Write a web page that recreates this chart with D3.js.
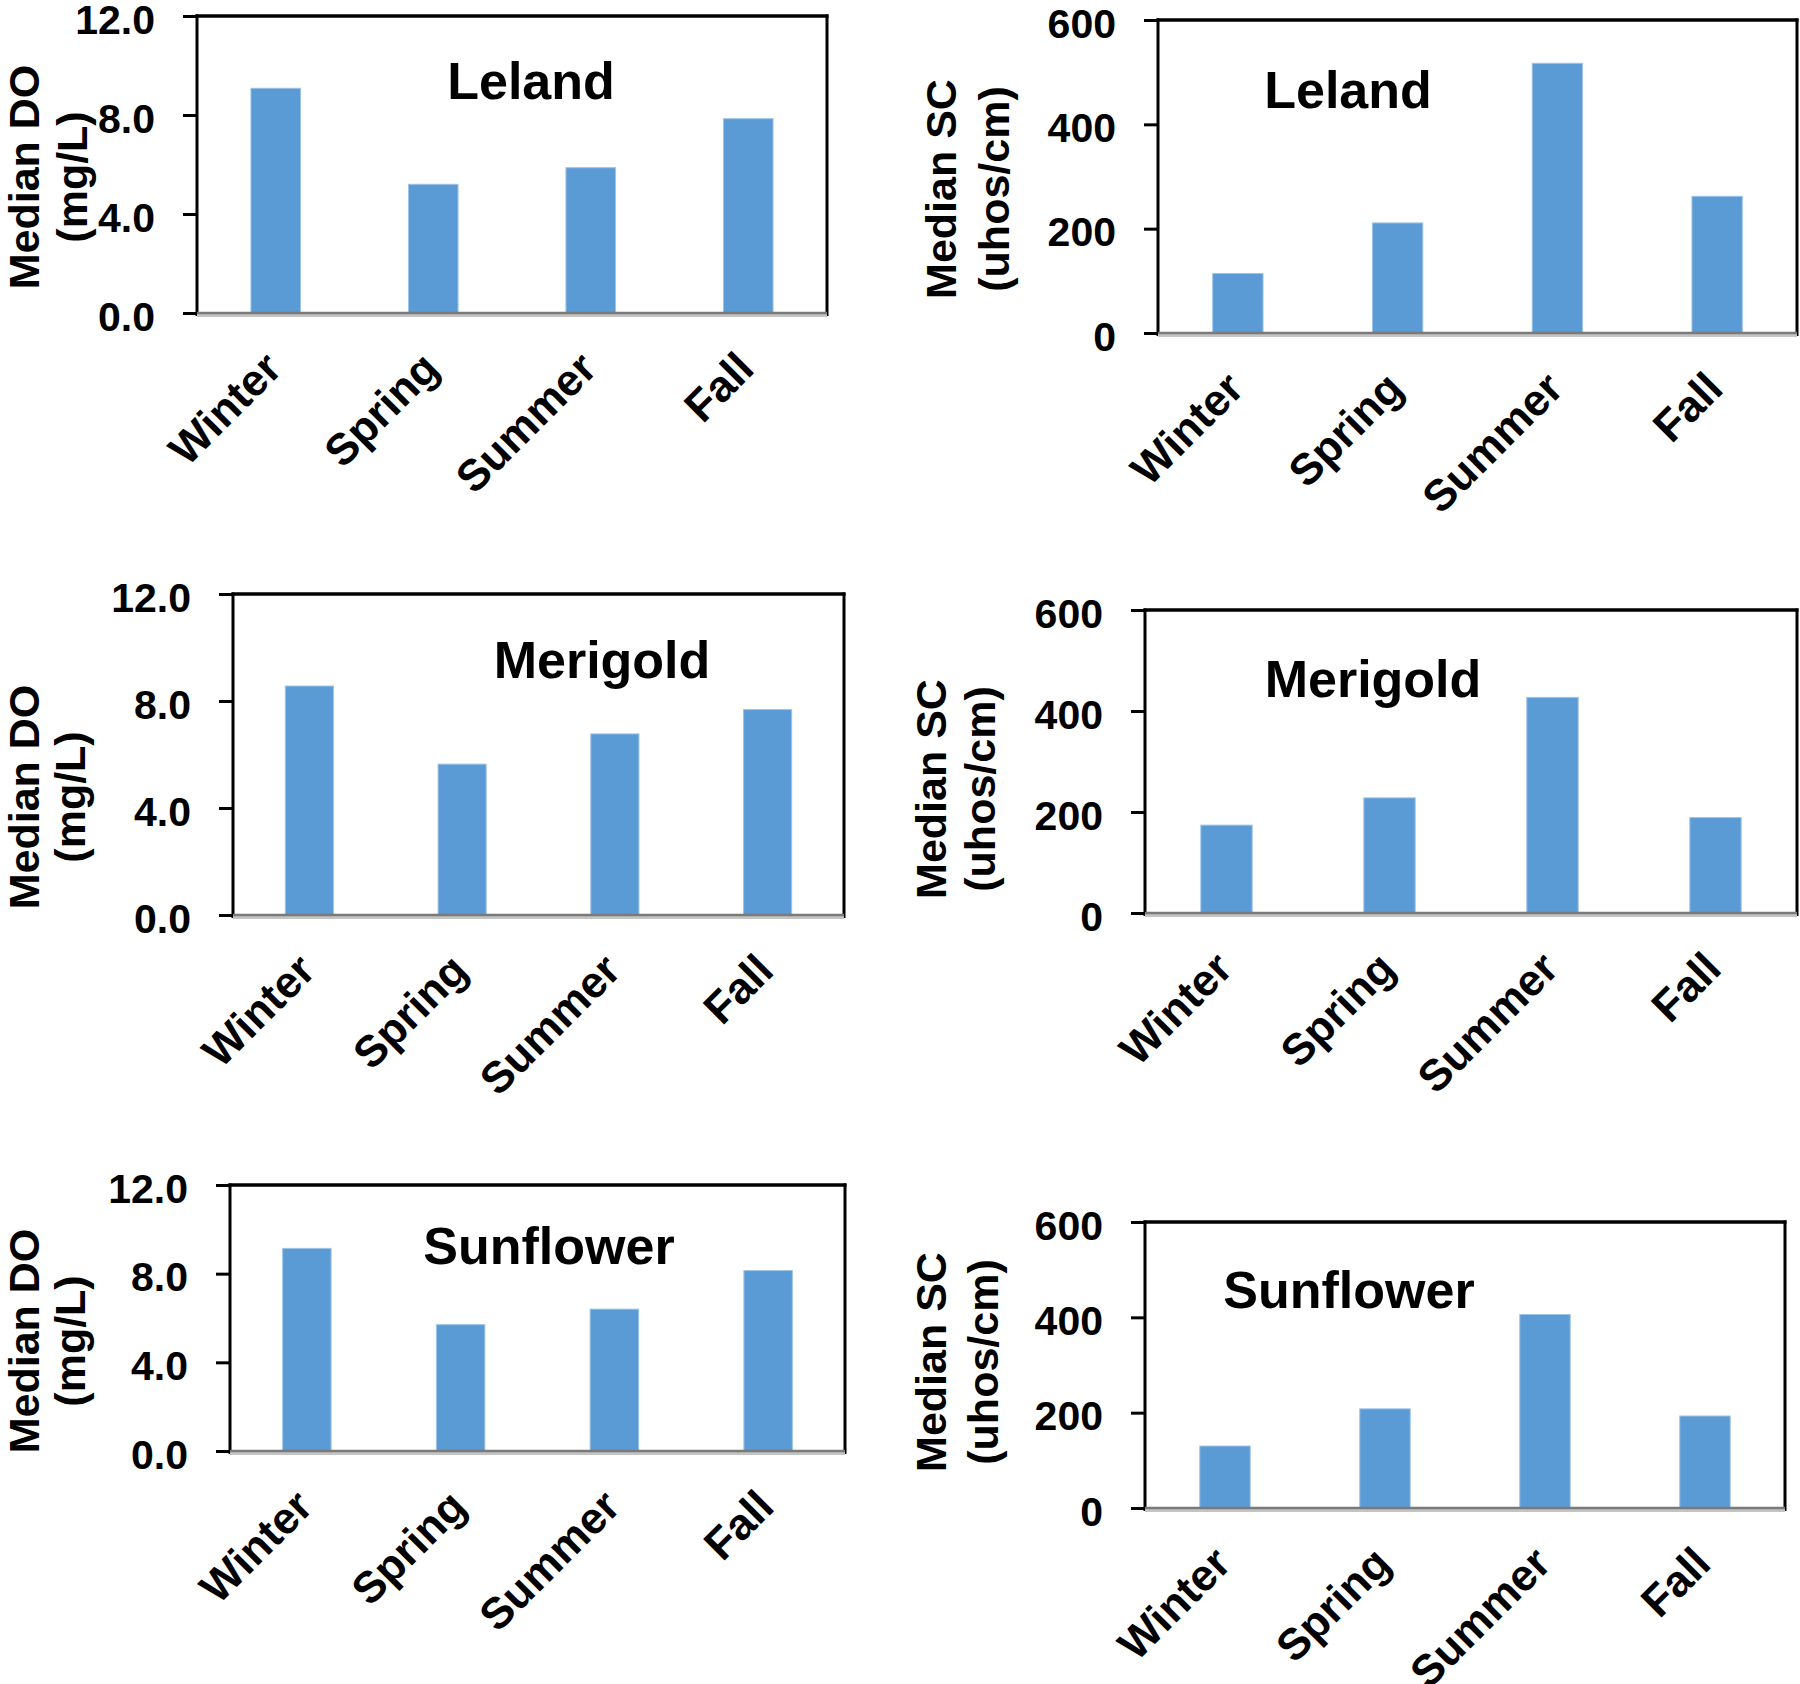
<!DOCTYPE html>
<html>
<head>
<meta charset="utf-8">
<script src="https://cdn.jsdelivr.net/npm/d3@7/dist/d3.min.js"></script>
<style>
  html, body { margin: 0; padding: 0; background: #ffffff; }
  svg { display: block; }
  text { font-family: "Liberation Sans", Arial, Helvetica, sans-serif; font-weight: bold; fill: #000; }
</style>
</head>
<body>
<svg id="chart" width="1800" height="1684"></svg>
<script>
// ---------------- DATA ----------------
const seasons = ["Winter", "Spring", "Summer", "Fall"];
const sites = ["Leland", "Merigold", "Sunflower"];

const doTicks = [0, 4, 8, 12];
const scTicks = [0, 200, 400, 600];

const doLeland    = [9.08, 5.20, 5.87, 7.85];
const doMerigold  = [8.56, 5.64, 6.77, 7.68];
const doSunflower = [9.14, 5.70, 6.40, 8.14];

const scLeland    = [114, 211, 517, 262];
const scMerigold  = [174, 228, 427, 189];
const scSunflower = [130, 208, 406, 193];

const doLabel = ["Median DO", "(mg/L)"];
const scLabel = ["Median SC", "(uhos/cm)"];

// ---------------- LAYOUT ----------------
const panels = [
  { site: sites[0], values: doLeland, ticks: doTicks, max: 12, fmt: d3.format(".1f"), label: doLabel,
    box: [197, 827, 16, 313], title: [531, 99], lab: [39, 87, 177] },
  { site: sites[0], values: scLeland, ticks: scTicks, max: 600, fmt: d3.format("d"), label: scLabel,
    box: [1158, 1797, 20, 333], title: [1348, 108], lab: [956, 1009, 189] },
  { site: sites[1], values: doMerigold, ticks: doTicks, max: 12, fmt: d3.format(".1f"), label: doLabel,
    box: [233, 844, 594, 915], title: [602, 678], lab: [39, 85, 797] },
  { site: sites[1], values: scMerigold, ticks: scTicks, max: 600, fmt: d3.format("d"), label: scLabel,
    box: [1145, 1797, 610, 913], title: [1373, 697], lab: [946, 995, 789] },
  { site: sites[2], values: doSunflower, ticks: doTicks, max: 12, fmt: d3.format(".1f"), label: doLabel,
    box: [230, 845, 1185, 1451], title: [549, 1264], lab: [39, 85, 1341] },
  { site: sites[2], values: scSunflower, ticks: scTicks, max: 600, fmt: d3.format("d"), label: scLabel,
    box: [1145, 1785, 1222, 1508], title: [1349, 1308], lab: [946, 998, 1362] }
];

const svg = d3.select("#chart");
svg.append("rect").attr("width", 1800).attr("height", 1684).attr("fill", "#ffffff");

panels.forEach(p => {
  const [x0, x1, y0, y1] = p.box;
  const g = svg.append("g");

  const x = d3.scaleBand().domain(seasons).range([x0, x1])
    .paddingInner(0.685).paddingOuter(0.3425);
  const y = d3.scaleLinear().domain([0, p.max]).range([y1, y0]);

  // bars
  g.selectAll("rect.bar").data(seasons).enter().append("rect")
    .attr("class", "bar")
    .attr("x", d => x(d))
    .attr("width", x.bandwidth())
    .attr("y", (d, i) => y(p.values[i]))
    .attr("height", (d, i) => y(0) - y(p.values[i]))
    .attr("fill", "#5b9bd5")
    .attr("stroke", "#9dc3e6")
    .attr("stroke-width", 1);

  // y axis (ticks + labels) via d3.axisLeft
  const yAxis = d3.axisLeft(y).tickValues(p.ticks).tickFormat(p.fmt).tickSize(14).tickPadding(28);
  const ya = g.append("g").attr("transform", `translate(${x0},0)`).call(yAxis);
  ya.select(".domain").remove();
  ya.selectAll(".tick line").attr("stroke", "#000").attr("stroke-width", 3);
  ya.selectAll(".tick text")
    .attr("font-size", 41)
    .attr("font-family", '"Liberation Sans", Arial, sans-serif')
    .attr("font-weight", "bold")
    .attr("fill", "#000")
    .attr("dy", "0.42em");

  // frame: left, top, right in black
  g.append("line").attr("x1", x0).attr("x2", x0).attr("y1", y0 - 1.5).attr("y2", y1 + 3)
    .attr("stroke", "#000").attr("stroke-width", 3);
  g.append("line").attr("x1", x0 - 1.5).attr("x2", x1 + 1.5).attr("y1", y0).attr("y2", y0)
    .attr("stroke", "#000").attr("stroke-width", 3.5);
  g.append("line").attr("x1", x1).attr("x2", x1).attr("y1", y0 - 1.5).attr("y2", y1 + 3)
    .attr("stroke", "#000").attr("stroke-width", 3);

  // category (x) axis line: grey
  g.append("line").attr("x1", x0).attr("x2", x1).attr("y1", y1 + 2.5).attr("y2", y1 + 2.5)
    .attr("stroke", "#c4c4c4").attr("stroke-width", 3);
  g.append("line").attr("x1", x0).attr("x2", x1).attr("y1", y1).attr("y2", y1)
    .attr("stroke", "#7a7a7a").attr("stroke-width", 2.5);

  // x labels rotated -45
  g.selectAll("text.xl").data(seasons).enter().append("text")
    .attr("class", "xl")
    .attr("font-size", 44)
    .attr("text-anchor", "end")
    .attr("transform", d => `translate(${x(d) + x.bandwidth() / 2 + 8},${y1 + 58}) rotate(-45)`)
    .text(d => d);

  // site title
  g.append("text")
    .attr("x", p.title[0]).attr("y", p.title[1])
    .attr("text-anchor", "middle")
    .attr("font-size", 52)
    .text(p.site);

  // y axis title (two lines)
  g.append("text")
    .attr("transform", `translate(${p.lab[0]},${p.lab[2]}) rotate(-90)`)
    .attr("text-anchor", "middle")
    .attr("font-size", 43)
    .text(p.label[0]);
  g.append("text")
    .attr("transform", `translate(${p.lab[1]},${p.lab[2]}) rotate(-90)`)
    .attr("text-anchor", "middle")
    .attr("font-size", 43)
    .text(p.label[1]);
});
</script>
</body>
</html>
